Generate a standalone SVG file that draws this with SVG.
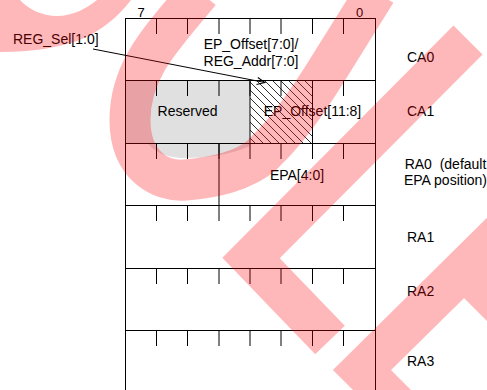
<svg xmlns="http://www.w3.org/2000/svg" width="487" height="390" viewBox="0 0 487 390">
<defs>
<style>
text{font-family:"Liberation Sans",Arial,sans-serif;font-size:14px;fill:#000}
.bit{font-size:13px;text-anchor:middle}
.mid{text-anchor:middle}
.grid{stroke:#000;stroke-width:1;fill:none}
.wm{fill:none;stroke:#ff0008;stroke-width:41}
</style>
<pattern id="hatch" patternUnits="userSpaceOnUse" width="8" height="8">
<path d="M-2 -2L10 10M-2 6L2 10M6 -2L10 2" stroke="#000" stroke-width="0.8"/>
</pattern>
<marker id="arr" markerWidth="10" markerHeight="10" refX="9" refY="5" orient="auto" markerUnits="userSpaceOnUse">
<path d="M1 1.5L9 5L1 8.5" fill="none" stroke="#000" stroke-width="1"/>
</marker>
</defs>
<rect width="487" height="390" fill="#fff"/>

<g id="cell-reserved">
<rect x="125.5" y="80.5" width="124.5" height="63" fill="#e0e0e0"/>
<path d="M148 143L250 143L250 146C230 155 205 158 185 158C165 158 152 150 148 143Z" fill="#e0e0e0"/>
<text class="mid" x="187.5" y="115.7">Reserved</text>
</g>
<g id="cell-ep-offset-hi">
<rect x="250" y="80.5" width="62.5" height="63" fill="url(#hatch)"/>
<text class="mid" x="312.5" y="115.5">EP_Offset[11:8]</text>
</g>

<g id="frame" class="grid">
<path d="M125 18.5H375.5M125 80.5H375.5M125 143.5H375.5M125 205.5H375.5M125 268.5H375.5M125 330.5H375.5"/>
<path d="M125.5 18V390M375.5 18V390M250 80.5V143.5M312.5 80.5V143.5M219 143.5V205.5"/>
<path d="M156.5 18.5v15.5M187.5 18.5v15.5M219 18.5v15.5M250 18.5v15.5M281 18.5v15.5M312.5 18.5v15.5M343.5 18.5v15.5"/>
<path d="M156.5 80.5v15.5M187.5 80.5v15.5M219 80.5v15.5M250 80.5v15.5M281 80.5v15.5M312.5 80.5v15.5M343.5 80.5v15.5"/>
<path d="M156.5 143.5v15.5M187.5 143.5v15.5M219 143.5v15.5M250 143.5v15.5M281 143.5v15.5M312.5 143.5v15.5M343.5 143.5v15.5"/>
<path d="M156.5 205.5v15.5M187.5 205.5v15.5M219 205.5v15.5M250 205.5v15.5M281 205.5v15.5M312.5 205.5v15.5M343.5 205.5v15.5"/>
<path d="M156.5 268.5v15.5M187.5 268.5v15.5M219 268.5v15.5M250 268.5v15.5M281 268.5v15.5M312.5 268.5v15.5M343.5 268.5v15.5"/>
<path d="M156.5 330.5v15.5M187.5 330.5v15.5M219 330.5v15.5M250 330.5v15.5M281 330.5v15.5M312.5 330.5v15.5M343.5 330.5v15.5"/>
</g>

<g id="bit-labels">
<text class="bit" x="141" y="17">7</text>
<text class="bit" x="359.5" y="17">0</text>
</g>
<g id="cell-ep-offset-lo">
<text class="mid" x="251" y="48.5">EP_Offset[7:0]/</text>
<text class="mid" x="251" y="65.5">REG_Addr[7:0]</text>
</g>
<g id="cell-epa">
<text class="mid" x="297" y="180">EPA[4:0]</text>
</g>
<g id="label-reg-sel">
<text x="13" y="43.5">REG_Sel[1:0]</text>
</g>
<g id="row-labels">
<text x="407" y="62">CA0</text>
<text x="407" y="116">CA1</text>
<text class="mid" x="445.5" y="169.3">RA0 &#160;(default</text>
<text class="mid" x="445.5" y="185">EPA position)</text>
<text x="407" y="242">RA1</text>
<text x="407" y="296">RA2</text>
<text x="407" y="366">RA3</text>
</g>

<g id="connectors">
<path d="M93 49L265 82.5" fill="none" stroke="#000" stroke-width="1" marker-end="url(#arr)"/>
</g>

<g id="watermark" opacity="0.275">
<path fill="#ff0008" d="M0 0L20 0C28 9 42 16 57 16C72 16 86 9 97 0L131 0C118 17 102 30 82 39C60 48 30 52 0 52Z"/>
<path class="wm" stroke-linejoin="round" d="M200 -8C160 40 130 70 130 120C130 165 160 182 185 180C215 178 245 170 262 155C280 138 295 120 321 80L376 -8"/>
<path class="wm" stroke-linejoin="miter" d="M468 40L251 258L330 340"/>
<path class="wm" stroke-linejoin="miter" d="M520 214L362 370L440 448"/>
<path class="wm" d="M463 268L545 350"/>
</g>
</svg>
